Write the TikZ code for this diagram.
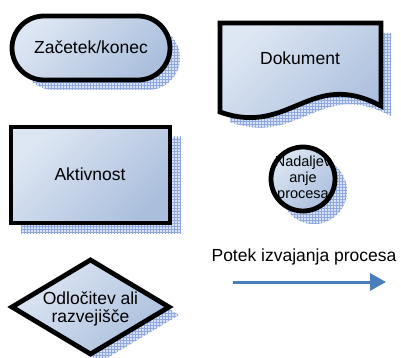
\documentclass[tikz,border=0pt]{standalone}
\usepackage{fontspec}
\setmainfont{Liberation Sans}
\usetikzlibrary{arrows.meta,patterns}

\definecolor{fillLight}{HTML}{DDE6F3}
\definecolor{fillDark}{HTML}{ABBFDD}
\definecolor{shadowLine}{HTML}{8FA9DE}
\definecolor{shadowBase}{HTML}{D9E2F4}
\definecolor{flowBlue}{HTML}{4A7EBB}

\tikzset{
  shapebody/.style={draw=black, line width=4.8pt, top color=fillLight,
    bottom color=fillDark, shading angle=45},
  shadowbody/.style={fill=shadowBase, postaction={pattern=grid, pattern color=shadowLine}},
  labeltext/.style={font=\fontsize{17.5}{18.5}\selectfont, align=center, inner sep=0pt},
  smalltext/.style={font=\fontsize{14.5}{16}\selectfont, align=center, inner sep=0pt},
  flowarrow/.style={draw=flowBlue, line width=3pt, -{Triangle[length=16pt,width=17pt]}},
}

\begin{document}
\begin{tikzpicture}[x=1pt,y=-1pt]
\useasboundingbox (0,0) rectangle (401,358);

% drop shadows
\fill[shadowbody, rounded corners=32pt] (22,26) rectangle (180,90);
\fill[shadowbody, shift={(10,10)}] (220,23) -- (381,23) -- (381,106)
  .. controls (310,68) and (290,137) .. (220,112) -- cycle;
\fill[shadowbody] (21,137) rectangle (181,233);
\fill[shadowbody] (314,191) circle (33);
\fill[shadowbody, shift={(10,8)}] (12,307) -- (90.5,260) -- (169,307) -- (90.5,354) -- cycle;

% terminator
\draw[shapebody, rounded corners=32pt] (12,16) rectangle (170,80);
% document
\draw[shapebody] (220,23) -- (381,23) -- (381,106)
  .. controls (310,68) and (290,137) .. (220,112) -- cycle;
% process
\draw[shapebody] (11,127) rectangle (170,223);
% connector
\draw[shapebody] (303,179) circle (32);
% decision
\draw[shapebody] (12,307) -- (90.5,260) -- (169,307) -- (90.5,354) -- cycle;

% labels
\node[labeltext, anchor=base] (start) at (91,53.5) {Začetek/konec};
\node[labeltext, anchor=base] (doc) at (300,65) {Dokument};
\node[labeltext, anchor=base] (act) at (90,180) {Aktivnost};
\node[smalltext] (cont) at (303,179) {Nadaljev\\anje\\procesa};
\node[labeltext] (dec) at (90.5,309) {Odločitev ali\\razvejišče};
\node[labeltext, anchor=base] (flowlabel) at (304,261.5) {Potek izvajanja procesa};

% flow direction
\coordinate (flowstart) at (233,282);
\coordinate (flowend) at (386,282);
\draw[flowarrow] (flowstart) -- (flowend);
\end{tikzpicture}
\end{document}
